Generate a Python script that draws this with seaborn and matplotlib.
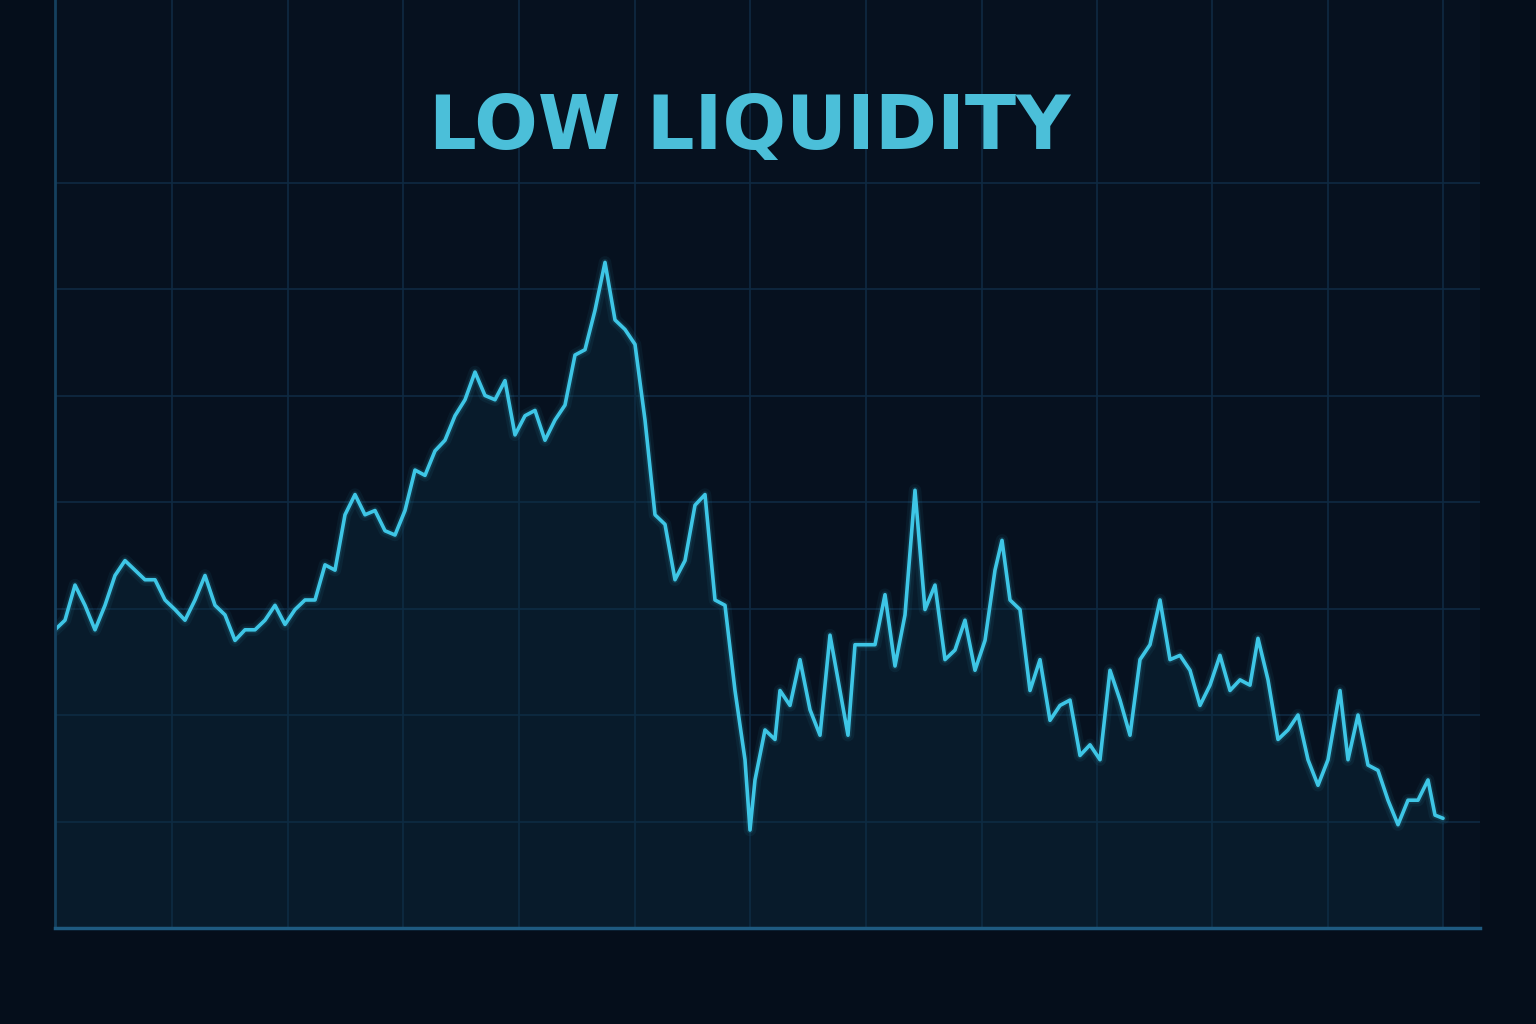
import numpy as np
import matplotlib
matplotlib.use("Agg")
import matplotlib.pyplot as plt
import seaborn as sns

# time positions (chart units) and price values
time = [55,65,75,85,95,105,115,125,135,145,155,165,175,185,195,205,215,225,235,245,255,265,275,285,295,305,315,325,335,345,355,365,375,385,395,405,415,425,435,445,455,465,475,485,495,505,515,525,535,545,555,565,575,585,595,605,615,625,635,645,655,665,675,685,695,705,715,725,735,745,750,755,765,775,780,790,800,810,820,830,840,848,855,865,875,885,895,905,915,925,935,945,955,965,975,985,995,1002,1010,1020,1030,1040,1050,1060,1070,1080,1090,1100,1110,1120,1130,1140,1150,1160,1170,1180,1190,1200,1210,1220,1230,1240,1250,1258,1268,1278,1288,1298,1308,1318,1328,1340,1348,1358,1368,1378,1388,1398,1408,1418,1428,1435,1443]
price = [2.80,2.89,3.22,3.03,2.80,3.03,3.31,3.45,3.36,3.27,3.27,3.08,2.99,2.89,3.08,3.31,3.03,2.94,2.70,2.80,2.80,2.89,3.03,2.85,2.99,3.08,3.08,3.41,3.36,3.88,4.07,3.88,3.92,3.73,3.69,3.92,4.30,4.25,4.48,4.58,4.81,4.96,5.22,5.00,4.96,5.14,4.63,4.81,4.86,4.58,4.77,4.91,5.38,5.43,5.80,6.25,5.71,5.62,5.48,4.77,3.88,3.79,3.27,3.45,3.97,4.07,3.08,3.03,2.23,1.58,0.92,1.39,1.86,1.77,2.23,2.09,2.52,2.05,1.81,2.75,2.23,1.81,2.66,2.66,2.66,3.13,2.46,2.94,4.11,2.99,3.22,2.52,2.61,2.89,2.42,2.70,3.36,3.64,3.08,2.99,2.23,2.52,1.95,2.09,2.14,1.62,1.72,1.58,2.42,2.14,1.81,2.52,2.66,3.08,2.52,2.56,2.42,2.09,2.28,2.56,2.23,2.33,2.28,2.72,2.33,1.77,1.86,2.00,1.58,1.34,1.58,2.23,1.58,2.00,1.53,1.48,1.20,0.97,1.20,1.20,1.39,1.06,1.03]
grid_x = [55,172,288,403,519,635,750,866,982,1097,1212,1328,1443]
grid_y = [1,2,3,4,5,6,7]
title = "LOW LIQUIDITY"

sns.set_theme(style="dark")
fig = plt.figure(figsize=(15.36,10.24), dpi=100, facecolor="#050e1b")
ax = fig.add_axes([55/1536, 96/1024, 1425/1536, 928/1024])
ax.set_facecolor("#06111f")
ax.set_xlim(55,1480)
ax.set_ylim(0,928/106.5)
ax.set_xticks(grid_x); ax.set_yticks(grid_y)
ax.set_xticklabels([]); ax.set_yticklabels([])
ax.tick_params(length=0)
ax.grid(True, color="#0f2a42", lw=1.2)
for s in ["top","right"]:
    ax.spines[s].set_visible(False)
ax.spines["left"].set_color("#15405e"); ax.spines["left"].set_lw(2)
ax.spines["bottom"].set_color("#1e5a80"); ax.spines["bottom"].set_lw(2.5)

ax.fill_between(time, price, 0, color="#0c2e44", alpha=0.35, lw=0)
for lw, a in [(9,0.06),(5,0.12)]:
    sns.lineplot(x=time, y=price, ax=ax, color="#3cc8e8", lw=lw, alpha=a)
sns.lineplot(x=time, y=price, ax=ax, color="#3ec6e6", lw=2.6)

fig.text(750/1536, 1-128/1024, title,
         ha="center", va="center", fontsize=54, fontweight="bold",
         color="#4bbfd9", family=["DejaVu Sans"])
fig.savefig("out.png", dpi=100, facecolor=fig.get_facecolor())
